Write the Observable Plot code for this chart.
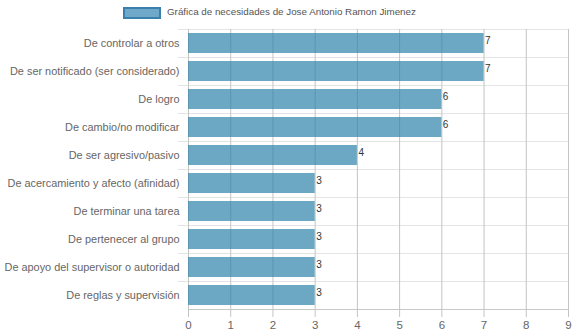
<!DOCTYPE html>
<html>
<head>
<meta charset="utf-8">
<script src="https://cdn.jsdelivr.net/npm/d3@7"></script>
<script src="https://cdn.jsdelivr.net/npm/@observablehq/plot@0.6"></script>
<style>
  html, body { margin: 0; padding: 0; background: #fff; }
  #wrap { position: relative; width: 574px; height: 334px; font-family: "Liberation Sans", Arial, sans-serif; }
  #legend { position: relative; height: 29px; }
  #legend .box { position: absolute; left: 123px; top: 7px; width: 34px; height: 8px; border: 2px solid #3a80ad; background: #6fa8c8; }
  #legend .lbl { position: absolute; left: 167px; top: 6px; font-size: 9.8px; color: #555; white-space: nowrap; }
  #chart svg { display: block; }
</style>
</head>
<body>
<div id="wrap">
  <div id="legend"><span class="box"></span><span class="lbl"></span></div>
  <div id="chart"></div>
</div>
<script>
const seriesName = "Gráfica de necesidades de Jose Antonio Ramon Jimenez";
const categories = [
  "De controlar a otros",
  "De ser notificado (ser considerado)",
  "De logro",
  "De cambio/no modificar",
  "De ser agresivo/pasivo",
  "De acercamiento y afecto (afinidad)",
  "De terminar una tarea",
  "De pertenecer al grupo",
  "De apoyo del supervisor o autoridad",
  "De reglas y supervisión"
];
const values = [7, 7, 6, 6, 4, 3, 3, 3, 3, 3];
const xTicks = [0, 1, 2, 3, 4, 5, 6, 7, 8, 9];

document.querySelector("#legend .lbl").textContent = seriesName;

const data = categories.map((c, i) => ({name: c, value: values[i]}));
const lastCat = categories[categories.length - 1];

const chart = Plot.plot({
  width: 574,
  height: 305,
  marginTop: 0,
  marginBottom: 25,
  marginLeft: 188,
  marginRight: 6,
  style: {fontFamily: "'Liberation Sans', Arial, sans-serif", fontSize: "12px", background: "white"},
  x: {domain: [0, 9], ticks: xTicks, label: null},
  y: {domain: categories, paddingInner: 0.29, paddingOuter: 0.145, label: null},
  marks: [
    Plot.ruleY(categories, {y: d => d, dy: -14, x1: -0.237, x2: 9, stroke: "#e4e4e4", strokeWidth: 1}),
    Plot.ruleY([lastCat], {y: d => d, dy: 14, x1: 0, x2: 9, stroke: "#c8c8c8", strokeWidth: 1}),
    Plot.ruleX(xTicks, {x: d => d, stroke: "#c4c4c4", strokeWidth: 1}),
    Plot.barX(data, {x: "value", y: "name", fill: "rgb(46,130,170)", fillOpacity: 0.7}),
    Plot.text(data, {x: "value", y: "name", text: d => String(d.value), textAnchor: "start", dx: 1, dy: -3, fill: "#333", fontSize: 10}),
    Plot.axisY({tickSize: 0, tickPadding: 9, fill: "#666", fontSize: 10.9}),
    Plot.axisX({ticks: xTicks, tickSize: 8, tickPadding: 3, stroke: "#c4c4c4", fill: "#666", fontSize: 11.5, tickFormat: d => String(d)})
  ]
});
document.getElementById("chart").appendChild(chart);
</script>
</body>
</html>
